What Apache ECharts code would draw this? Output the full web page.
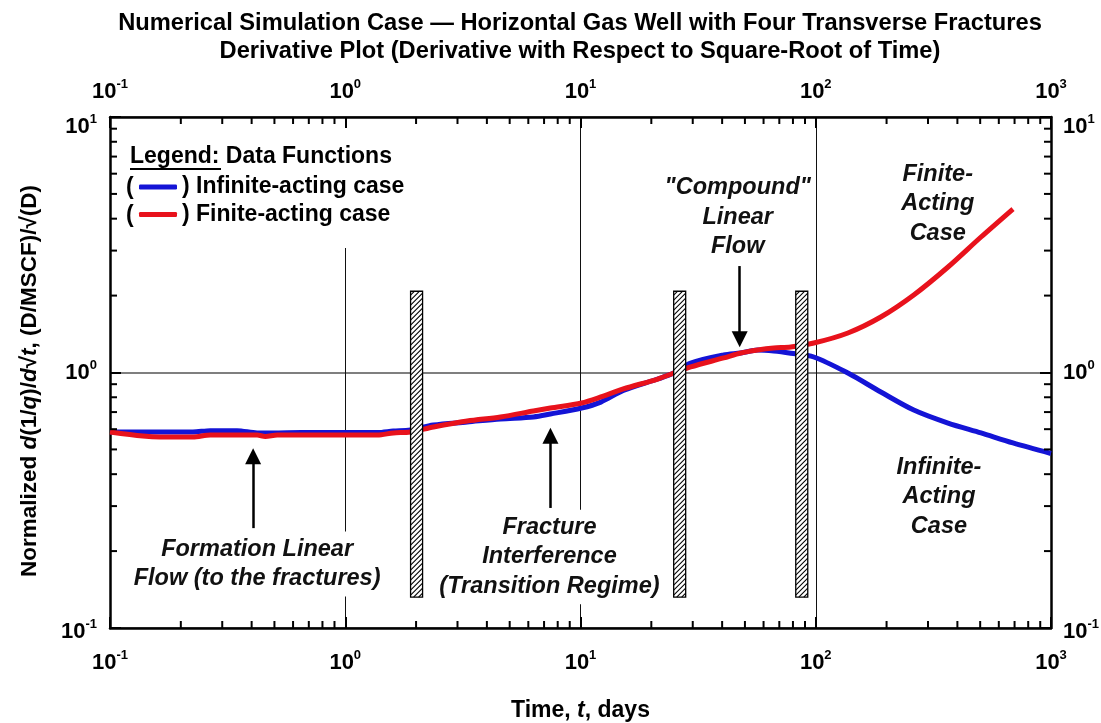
<!DOCTYPE html>
<html><head><meta charset="utf-8">
<script src="https://cdn.jsdelivr.net/npm/echarts@6/dist/echarts.min.js"></script>
<style>html,body{margin:0;padding:0;background:#fff}#c{width:1101px;height:723px}</style>
</head><body><div id="c"></div>
<script>
// ---------------- data ----------------
const timeInfinite = [0.1, 0.138, 0.163, 0.225, 0.267, 0.347, 0.422, 0.494, 0.65, 1.0, 1.37, 1.6, 1.89, 2.37, 3.3, 4.57, 6.31, 7.45, 10.1, 12.2, 15.2, 21.3, 24.9, 29.4, 40.6, 48.0, 56.7, 66.3, 78.3, 98.1, 137, 189, 261, 365, 504, 689, 1000];
const derivInfinite = [0.585, 0.585, 0.585, 0.585, 0.592, 0.592, 0.58, 0.58, 0.582, 0.582, 0.582, 0.59, 0.596, 0.623, 0.64, 0.658, 0.67, 0.688, 0.726, 0.766, 0.85, 0.943, 0.995, 1.089, 1.171, 1.192, 1.225, 1.214, 1.19, 1.15, 0.995, 0.839, 0.713, 0.634, 0.58, 0.53, 0.482];
const timeFinite = [0.1, 0.138, 0.163, 0.225, 0.267, 0.347, 0.422, 0.457, 0.514, 1.0, 1.37, 1.6, 1.89, 2.37, 3.3, 4.57, 6.31, 7.45, 10.1, 12.2, 15.2, 21.3, 24.9, 29.4, 40.6, 48.0, 56.7, 66.3, 78.3, 98.1, 137, 189, 261, 365, 504, 689];
const derivFinite = [0.585, 0.564, 0.559, 0.559, 0.569, 0.569, 0.569, 0.562, 0.569, 0.569, 0.569, 0.58, 0.585, 0.612, 0.646, 0.67, 0.707, 0.726, 0.76, 0.802, 0.862, 0.943, 0.995, 1.051, 1.14, 1.192, 1.225, 1.247, 1.259, 1.304, 1.428, 1.649, 2.011, 2.588, 3.391, 4.364];
const seriesNames = ['Infinite-acting case', 'Finite-acting case'];
const regimeBoundaries = [2.01, 26.4, 87.2];
const boundaryLow = 0.132, boundaryHigh = 2.08;
const xDecades = [0.1, 1, 10, 100];
const yDecades = [0.1, 1];
// annotations: [time, value, text, whiteBackground]
const annotations = [
  [0.422, 0.178, 'Formation Linear\nFlow (to the fractures)', true],
  [7.38, 0.1897, 'Fracture\nInterference\n(Transition Regime)', true],
  [46.6, 4.06, '"Compound"\nLinear\nFlow', false],
  [330, 4.57, 'Finite-\nActing\nCase', false],
  [334, 0.3256, 'Infinite-\nActing\nCase', false]
];
// arrows: [time, fromValue, toValue]
const arrows = [
  [0.406, 0.246, 0.47],
  [7.45, 0.295, 0.565],
  [47.5, 2.61, 1.35]
];
// ---------------------------------------
const SANS = "'Liberation Sans',Arial,Helvetica,sans-serif";
const chart = echarts.init(document.getElementById('c'));

function expLabel(v) { const e = Math.round(Math.log10(v)); return '{b|10}{s|' + e + '}'; }
function expLabelY(v) {
  const e = Math.round(Math.log10(v));
  if (e === 1) return '{g20| }\n{b|10}{s|' + e + '}';
  if (e === -1) return '{g8| }\n{b|10}{s|' + e + '}';
  return '{b|10}{s|' + e + '}';
}
const labelRich = {
  b: { fontFamily: SANS, fontWeight: 'bold', fontSize: 22, color: '#000', lineHeight: 28 },
  s: { fontFamily: SANS, fontWeight: 'bold', fontSize: 13, color: '#000', lineHeight: 13, verticalAlign: 'top' },
  g20: { fontSize: 10, lineHeight: 20 },
  g8: { fontSize: 6, lineHeight: 8 }
};
function logAxis(pos, min, max, extra) {
  return Object.assign({
    type: 'log', logBase: 10, min: min, max: max, position: pos,
    axisLine: { show: true, onZero: false, lineStyle: { color: '#000', width: 2.5 } },
    axisTick: { show: true, inside: true, length: 11, lineStyle: { color: '#000', width: 2 } },
    minorTick: { show: false },
    splitLine: { show: false },
    axisLabel: { formatter: expLabel, rich: labelRich, margin: 12 }
  }, extra || {});
}

const minorData = [];
xDecades.forEach(d => { for (let m = 2; m <= 9; m++) minorData.push([m * d, 1, 0]); });
yDecades.forEach(d => { for (let m = 2; m <= 9; m++) minorData.push([1, m * d, 1]); });

const txt = (extra) => Object.assign({ fontFamily: SANS, fontWeight: 'bold', fontSize: 23, fill: '#000', textVerticalAlign: 'middle' }, extra);

const option = {
  animation: false,
  backgroundColor: '#fff',
  grid: { left: 110, right: 50, top: 117, bottom: 95, containLabel: false, outerBoundsMode: 'none' },
  xAxis: [
    logAxis('bottom', 0.1, 1000, {
      splitLine: { show: true, lineStyle: { color: '#111', width: 1 } },
      name: '{a|Time, }{i|t}{a|, days}', nameLocation: 'middle', nameGap: 71,
      nameTextStyle: { rich: {
        a: { fontFamily: SANS, fontWeight: 'bold', fontSize: 23, color: '#000' },
        i: { fontFamily: SANS, fontWeight: 'bold', fontStyle: 'italic', fontSize: 23, color: '#000' } } },
      axisLabel: { formatter: expLabel, rich: labelRich, margin: 21 }
    }),
    logAxis('top', 0.1, 1000, { axisLabel: { formatter: expLabel, rich: labelRich, margin: 11 } })
  ],
  yAxis: [
    logAxis('left', 0.1, 10, {
      splitLine: { show: true, lineStyle: { color: '#555', width: 1.5 } },
      axisLabel: { formatter: expLabelY, rich: labelRich, margin: 13 }
    }),
    logAxis('right', 0.1, 10, { axisLabel: { formatter: expLabelY, rich: labelRich, margin: 12 } })
  ],
  legend: {
    data: seriesNames, orient: 'vertical', left: 139, top: 175.5, padding: 0,
    itemWidth: 38, itemHeight: 5, itemGap: 4.5, icon: 'roundRect',
    selectedMode: false,
    formatter: n => ') ' + n,
    textStyle: { fontFamily: SANS, fontWeight: 'bold', fontSize: 23, color: '#000', lineHeight: 23 }
  },
  graphic: [
    { type: 'rect', z: 1, shape: { x: 121, y: 128, width: 302, height: 120 }, style: { fill: '#fff' } },
    { type: 'text', z: 10, x: 130, y: 157, style: txt({ text: 'Legend: Data Functions' }) },
    { type: 'line', z: 10, shape: { x1: 130, y1: 169, x2: 221, y2: 169 }, style: { stroke: '#000', lineWidth: 2 } },
    { type: 'text', z: 10, x: 126, y: 188, style: txt({ text: '(' }) },
    { type: 'text', z: 10, x: 126, y: 216, style: txt({ text: '(' }) },
    { type: 'text', z: 10, x: 580, y: 23, style: txt({ text: 'Numerical Simulation Case \u2014 Horizontal Gas Well with Four Transverse Fractures', fontSize: 23.7, textAlign: 'center' }) },
    { type: 'text', z: 10, x: 580, y: 51, style: txt({ text: 'Derivative Plot (Derivative with Respect to Square-Root of Time)', fontSize: 23.7, textAlign: 'center' }) },
    { type: 'text', z: 10, x: 30, y: 381, rotation: Math.PI / 2,
      style: { text: '{a|Normalized }{i|d}{a|(1/}{i|q}{a|)/}{i|d}{a|\u221A}{i|t}{a|, (D/MSCF)/\u221A(D)}',
        textAlign: 'center', textVerticalAlign: 'middle',
        rich: {
          a: { fontFamily: SANS, fontWeight: 'bold', fontSize: 22.5, fill: '#000' },
          i: { fontFamily: SANS, fontWeight: 'bold', fontStyle: 'italic', fontSize: 22.5, fill: '#000' } } } }
  ],
  series: [
    {
      name: seriesNames[0], type: 'line', smooth: 0.3, showSymbol: false, symbol: 'none', z: 2,
      data: timeInfinite.map((t, i) => [t, derivInfinite[i]]),
      lineStyle: { color: '#1414d6', width: 5 }, itemStyle: { color: '#1414d6' },
      emphasis: { disabled: true }
    },
    {
      name: seriesNames[1], type: 'line', smooth: 0.3, showSymbol: false, symbol: 'none', z: 2,
      data: timeFinite.map((t, i) => [t, derivFinite[i]]),
      lineStyle: { color: '#e8121c', width: 5 }, itemStyle: { color: '#e8121c' },
      emphasis: { disabled: true }
    },
    {
      name: 'annotations', type: 'line', data: [], z: 3,
      markPoint: {
        symbol: 'circle', symbolSize: 1, itemStyle: { color: 'rgba(0,0,0,0)' }, silent: true,
        data: annotations.map(a => ({
          coord: [a[0], a[1]],
          label: {
            show: true, position: 'inside', formatter: a[2], align: 'center', verticalAlign: 'middle',
            fontFamily: SANS, fontWeight: 'bold', fontStyle: 'italic', fontSize: 23.5, lineHeight: 29.5, color: '#111',
            backgroundColor: a[3] ? '#fff' : 'transparent', padding: [3, 3]
          }
        }))
      },
      markLine: {
        silent: true, symbol: ['none', 'triangle'], symbolSize: 16, precision: 6,
        label: { show: false },
        lineStyle: { color: '#000', width: 2.5, type: 'solid' },
        emphasis: { disabled: true },
        data: arrows.map(a => [{ coord: [a[0], a[1]] }, { coord: [a[0], a[2]] }])
      }
    },
    {
      name: 'regimes', type: 'custom', z: 5, silent: true,
      data: regimeBoundaries.map(v => [v, boundaryHigh]),
      encode: { x: 0, y: 1 },
      renderItem: function (params, api) {
        const x = api.value(0);
        const top = api.coord([x, boundaryHigh]);
        const bot = api.coord([x, boundaryLow]);
        const w = 12, x0 = top[0] - w / 2, y0 = top[1], y1 = bot[1];
        const children = [{ type: 'rect', shape: { x: x0, y: y0, width: w, height: y1 - y0 }, style: { fill: '#fff', stroke: '#000', lineWidth: 1.3 } }];
        for (let y = y0 + 4; y < y1 + w; y += 5) {
          let xa = x0, ya = y, xb = x0 + w, yb = y - w;
          if (ya > y1) { xa = x0 + (ya - y1); ya = y1; }
          if (yb < y0) { xb = x0 + (y - y0); yb = y0; }
          if (xb <= xa + 0.5) continue;
          children.push({ type: 'line', shape: { x1: xa, y1: ya, x2: xb, y2: yb }, style: { stroke: '#000', lineWidth: 1.1 } });
        }
        return { type: 'group', children: children };
      }
    },
    {
      name: 'minorTicks', type: 'custom', z: 6, silent: true, clip: false,
      data: minorData, encode: { x: 0, y: 1 },
      renderItem: function (params, api) {
        const kind = api.value(2), v = kind === 0 ? api.value(0) : api.value(1), L = 7;
        const st = { stroke: '#000', lineWidth: 2 };
        if (kind === 0) {
          const b = api.coord([v, 0.1]), t = api.coord([v, 10]);
          return { type: 'group', children: [
            { type: 'line', shape: { x1: b[0], y1: b[1], x2: b[0], y2: b[1] - L }, style: st },
            { type: 'line', shape: { x1: t[0], y1: t[1], x2: t[0], y2: t[1] + L }, style: st }] };
        }
        const l = api.coord([0.1, v]), r = api.coord([1000, v]);
        return { type: 'group', children: [
          { type: 'line', shape: { x1: l[0], y1: l[1], x2: l[0] + L, y2: l[1] }, style: st },
          { type: 'line', shape: { x1: r[0], y1: r[1], x2: r[0] - L, y2: r[1] }, style: st }] };
      }
    }
  ]
};
chart.setOption(option);
</script></body></html>
